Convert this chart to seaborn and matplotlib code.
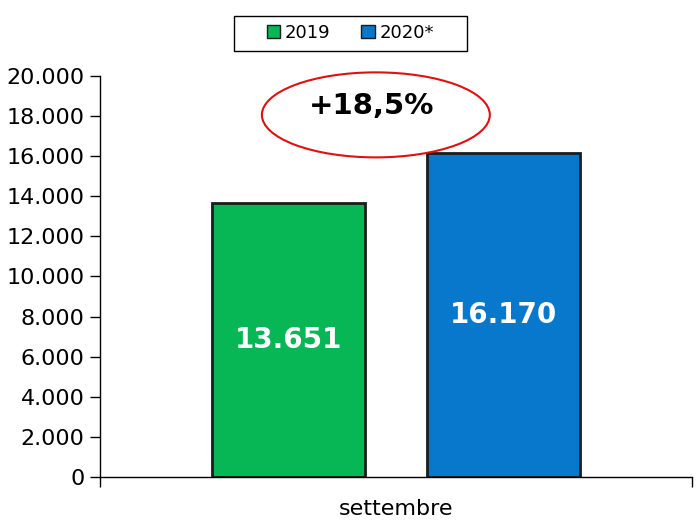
import matplotlib
matplotlib.use('Agg')
import matplotlib.pyplot as plt
from matplotlib.patches import Ellipse, Rectangle
from matplotlib.ticker import FuncFormatter
import pandas as pd
import seaborn as sns

# dati
mesi = ['settembre']
anni = ['2019', '2020*']
valori = [13651, 16170]
colori = ['#07B654', '#0878CC']
variazione = '+18,5%'

df = pd.DataFrame({'mese': mesi * len(anni), 'anno': anni, 'valore': valori})

sns.set_style('white')
plt.rcParams['font.family'] = ['DejaVu Sans']
plt.rcParams['text.color'] = 'black'


def punti(v, pos=None):
    return f'{v:,.0f}'.replace(',', '.')


fig = plt.figure(figsize=(6.99, 5.24), dpi=100)
ax = fig.add_axes([0.143, 0.0897, 0.847, 0.7653])

sns.barplot(data=df, x='mese', y='valore', hue='anno', palette=colori,
            width=0.728, gap=0.29, edgecolor='#1c1c1c', linewidth=2,
            saturation=1, ax=ax, legend=True)

ax.set_ylim(0, 20000)
ax.set_xlim(-0.5, 0.5)
ax.set_yticks(range(0, 20001, 2000))
ax.yaxis.set_major_formatter(FuncFormatter(punti))
ax.tick_params(axis='y', length=7, width=1, color='black', labelcolor='black',
               labelsize=16, pad=4, left=True)
ax.tick_params(axis='x', length=0, labelsize=16, labelcolor='black', pad=16)
ax.set_xticks([-0.5, 0.5], minor=True)
ax.tick_params(axis='x', which='minor', length=7, width=1, color='black', bottom=True)
ax.set_xlabel('')
ax.set_ylabel('')

for s in ['top', 'right']:
    ax.spines[s].set_visible(False)
for s in ['left', 'bottom']:
    ax.spines[s].set_color('black')
    ax.spines[s].set_linewidth(1)

# etichette dentro le barre
for barra, v in zip(ax.patches, valori):
    ax.text(barra.get_x() + barra.get_width() / 2, v / 2, punti(v),
            ha='center', va='center', color='white', fontsize=20, fontweight='bold')

# variazione nell'ellisse
ax.add_patch(Ellipse((0.466, 0.903), 0.385, 0.212, transform=ax.transAxes,
                     facecolor='none', edgecolor='#e01010', linewidth=1.5, clip_on=False))
ax.text(0.458, 0.925, variazione, transform=ax.transAxes, ha='center', va='center',
        fontsize=21, fontweight='bold', color='black')

# legenda con cornice rettangolare disegnata a parte
leg = ax.legend(loc='center', bbox_to_anchor=(0.501, 0.937), bbox_transform=fig.transFigure,
                ncol=2, frameon=False, fontsize=13, handlelength=0.75,
                handleheight=0.75, handletextpad=0.25, columnspacing=1.7)
for h in leg.legend_handles:
    h.set_edgecolor('#1c1c1c')
    h.set_linewidth(1)
fig.patches.append(Rectangle((234 / 699, 1 - 51 / 524), 233 / 699, 35 / 524,
                             transform=fig.transFigure, fill=False,
                             edgecolor='black', linewidth=1))

fig.savefig('out.png', dpi=100)
